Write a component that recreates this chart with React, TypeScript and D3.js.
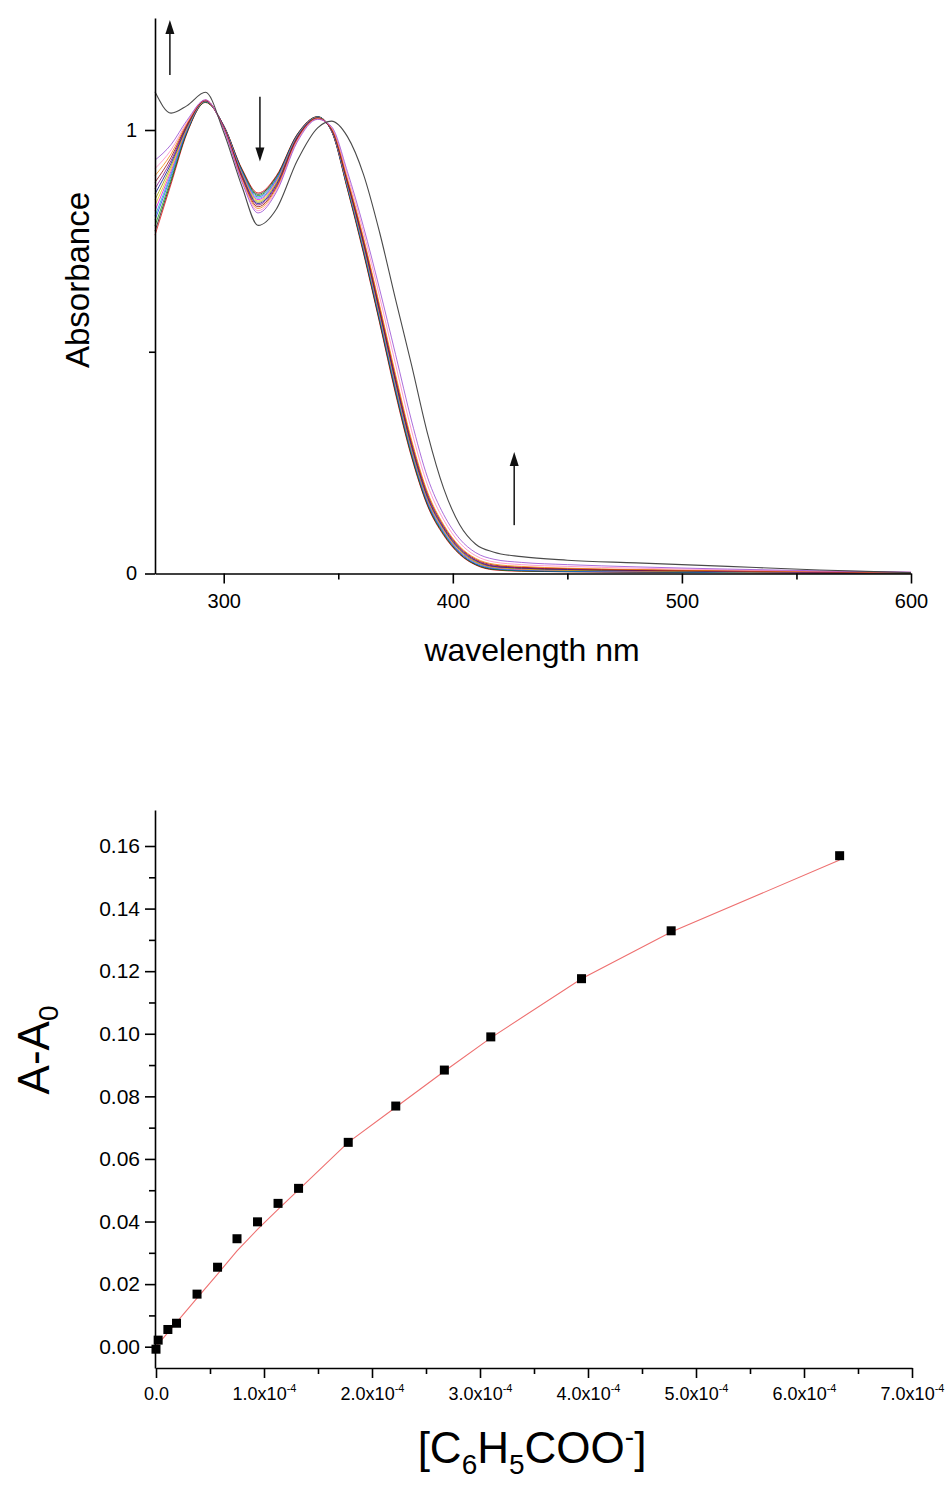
import React, { useRef, useEffect } from "react";
import * as d3 from "d3";

const W = 952;
const H = 1492;
const FONT = "'Liberation Sans', Arial, Helvetica, sans-serif";

// ---- top panel: UV-vis titration spectra ----
const wavelengths = [270, 277, 284, 292, 300, 308, 315, 323, 332, 341, 347, 354, 361, 368, 375, 382, 389, 396, 403, 410, 418, 430, 450, 480, 520, 560, 600];

const spec01 = [0.763, 0.878, 0.993, 1.062, 1.010, 0.912, 0.858, 0.897, 0.990, 1.030, 0.998, 0.866, 0.722, 0.566, 0.405, 0.262, 0.152, 0.086, 0.043, 0.019, 0.008, 0.005, 0.004, 0.003, 0.002, 0.001, 0.000];
const spec02 = [0.772, 0.884, 0.995, 1.063, 1.010, 0.910, 0.855, 0.895, 0.989, 1.030, 0.998, 0.868, 0.725, 0.569, 0.409, 0.265, 0.154, 0.088, 0.044, 0.020, 0.009, 0.006, 0.004, 0.003, 0.002, 0.001, 0.000];
const spec03 = [0.784, 0.889, 0.997, 1.063, 1.009, 0.908, 0.852, 0.892, 0.988, 1.029, 0.999, 0.870, 0.728, 0.573, 0.413, 0.268, 0.157, 0.090, 0.046, 0.021, 0.010, 0.006, 0.005, 0.004, 0.003, 0.002, 0.001];
const spec04 = [0.797, 0.896, 0.999, 1.064, 1.009, 0.906, 0.849, 0.890, 0.987, 1.029, 0.999, 0.872, 0.731, 0.576, 0.416, 0.272, 0.159, 0.092, 0.047, 0.022, 0.011, 0.007, 0.005, 0.004, 0.003, 0.002, 0.001];
const spec05 = [0.806, 0.901, 1.001, 1.064, 1.008, 0.904, 0.846, 0.887, 0.986, 1.029, 1.000, 0.874, 0.734, 0.580, 0.420, 0.275, 0.162, 0.094, 0.049, 0.024, 0.012, 0.008, 0.006, 0.005, 0.003, 0.002, 0.001];
const spec06 = [0.818, 0.907, 1.003, 1.065, 1.008, 0.902, 0.843, 0.885, 0.985, 1.028, 1.000, 0.876, 0.737, 0.583, 0.424, 0.278, 0.164, 0.096, 0.050, 0.025, 0.013, 0.009, 0.007, 0.005, 0.004, 0.002, 0.001];
const spec07 = [0.830, 0.913, 1.005, 1.065, 1.007, 0.900, 0.840, 0.882, 0.984, 1.028, 1.001, 0.878, 0.740, 0.586, 0.427, 0.281, 0.167, 0.098, 0.052, 0.026, 0.014, 0.010, 0.007, 0.006, 0.004, 0.003, 0.001];
const spec08 = [0.843, 0.919, 1.007, 1.066, 1.007, 0.898, 0.837, 0.880, 0.983, 1.028, 1.001, 0.880, 0.743, 0.590, 0.431, 0.284, 0.169, 0.100, 0.053, 0.027, 0.015, 0.011, 0.008, 0.006, 0.004, 0.003, 0.001];
const spec09 = [0.856, 0.925, 1.009, 1.066, 1.006, 0.896, 0.834, 0.877, 0.982, 1.027, 1.002, 0.882, 0.746, 0.593, 0.434, 0.288, 0.172, 0.102, 0.055, 0.029, 0.016, 0.012, 0.009, 0.007, 0.005, 0.003, 0.002];
const spec10 = [0.868, 0.931, 1.011, 1.066, 1.006, 0.894, 0.831, 0.874, 0.981, 1.027, 1.002, 0.884, 0.749, 0.596, 0.438, 0.291, 0.175, 0.104, 0.057, 0.030, 0.017, 0.013, 0.010, 0.008, 0.005, 0.003, 0.002];
const spec11 = [0.882, 0.938, 1.013, 1.067, 1.005, 0.891, 0.827, 0.871, 0.979, 1.026, 1.003, 0.887, 0.753, 0.601, 0.443, 0.296, 0.179, 0.107, 0.059, 0.032, 0.019, 0.014, 0.011, 0.008, 0.006, 0.004, 0.002];
const spec12 = [0.897, 0.946, 1.015, 1.067, 1.004, 0.888, 0.823, 0.868, 0.977, 1.026, 1.004, 0.890, 0.757, 0.606, 0.449, 0.301, 0.183, 0.110, 0.061, 0.034, 0.021, 0.016, 0.012, 0.009, 0.006, 0.004, 0.002];
const spec13 = [0.913, 0.955, 1.018, 1.068, 1.003, 0.885, 0.818, 0.864, 0.975, 1.025, 1.006, 0.898, 0.770, 0.625, 0.472, 0.322, 0.199, 0.121, 0.069, 0.040, 0.026, 0.020, 0.016, 0.012, 0.008, 0.005, 0.003];
const spec14 = [0.932, 0.967, 1.022, 1.068, 1.002, 0.882, 0.813, 0.860, 0.972, 1.024, 1.008, 0.906, 0.782, 0.642, 0.494, 0.344, 0.216, 0.133, 0.078, 0.047, 0.032, 0.025, 0.020, 0.015, 0.010, 0.006, 0.003];
// last spectrum (dark grey)
const specFinal = [1.086, 1.038, 1.055, 1.085, 0.995, 0.872, 0.785, 0.822, 0.930, 1.005, 1.020, 0.985, 0.900, 0.770, 0.618, 0.470, 0.315, 0.192, 0.110, 0.066, 0.048, 0.038, 0.030, 0.024, 0.016, 0.008, 0.002];

const spectra = [spec01, spec02, spec03, spec04, spec05, spec06, spec07, spec08, spec09, spec10, spec11, spec12, spec13, spec14];
const spectrumColors = ["#e00000", "#101010", "#00a000", "#2030ff", "#00b8c8", "#e000e0", "#e8c800", "#909000", "#000090", "#800080", "#900000", "#f08000", "#ff80c0", "#9040d0"];
const finalColor = "#4a4a4a";

const wlTicks = [300, 400, 500, 600];
const wlMinor = [350, 450, 550];
const absTicks = [0, 1];
const absMinor = [0.5];

// arrows: [wavelength, from absorbance, to absorbance]
const arrows = [
  [276.5, 1.124, 1.248],
  [315.8, 1.075, 0.929],
  [426.8, 0.109, 0.274],
];

// ---- bottom panel: A-A0 vs [benzoate] (x in 1e-4 M) ----
const conc = [0.0, 0.02, 0.11, 0.19, 0.38, 0.57, 0.75, 0.94, 1.13, 1.32, 1.78, 2.22, 2.67, 3.10, 3.94, 4.77, 6.33];
const deltaA = [-0.0008, 0.0021, 0.0055, 0.0075, 0.0168, 0.0254, 0.0345, 0.0399, 0.0458, 0.0506, 0.0653, 0.0769, 0.0884, 0.0990, 0.1176, 0.1329, 0.1569];

const fitConc = [0.0, 0.19, 0.38, 0.57, 0.75, 0.94, 1.13, 1.32, 1.78, 2.22, 2.67, 3.10, 3.94, 4.77, 6.33];
const fitDeltaA = [0.0, 0.0078, 0.0155, 0.0232, 0.0306, 0.0375, 0.0439, 0.0501, 0.0653, 0.0765, 0.0880, 0.0987, 0.1176, 0.1325, 0.1555];

const concTicks = [0, 1, 2, 3, 4, 5, 6, 7];
const concMinor = [0.5, 1.5, 2.5, 3.5, 4.5, 5.5, 6.5];
const dATicks = [0, 0.02, 0.04, 0.06, 0.08, 0.1, 0.12, 0.14, 0.16];
const dAMinor = [0.01, 0.03, 0.05, 0.07, 0.09, 0.11, 0.13, 0.15];

const styleAxis = (g, fontSize) => {
  g.attr("font-family", FONT).attr("font-size", fontSize);
  g.selectAll("path.domain").attr("stroke", "#000").attr("stroke-width", 1.6);
  g.selectAll(".tick line").attr("stroke", "#000").attr("stroke-width", 1.6);
  g.selectAll(".tick text").attr("fill", "#000");
};

const App = () => {
  const ref = useRef<SVGSVGElement>(null);

  useEffect(() => {
    const svg = d3.select(ref.current);
    svg.selectAll("*").remove();

    // ================= top panel =================
    const x1 = d3.scaleLinear().domain([270, 600]).range([155, 911]);
    const y1 = d3.scaleLinear().domain([0, 1]).range([573.5, 130]);
    const y1Axis = y1.copy().domain([0, y1.invert(18)]).range([573.5, 18]);
    const top = svg.append("g");

    const specLine = d3
      .line<number>()
      .x((d, i) => x1(wavelengths[i]))
      .y((d) => y1(d))
      .curve(d3.curveMonotoneX);

    spectra.forEach((s, i) => {
      top
        .append("path")
        .attr("d", specLine(s))
        .attr("fill", "none")
        .attr("stroke", spectrumColors[i])
        .attr("stroke-width", 0.9)
        .attr("stroke-opacity", 0.85);
    });
    top
      .append("path")
      .attr("d", specLine(specFinal))
      .attr("fill", "none")
      .attr("stroke", finalColor)
      .attr("stroke-width", 1.1);

    // axes
    const gx1 = top
      .append("g")
      .attr("transform", `translate(0,${y1(0)})`)
      .call(d3.axisBottom(x1).tickValues(wlTicks).tickSize(10).tickSizeOuter(0).tickPadding(10).tickFormat(d3.format("d")));
    styleAxis(gx1, 20);
    const gx1m = top
      .append("g")
      .attr("transform", `translate(0,${y1(0)})`)
      .call(d3.axisBottom(x1).tickValues(wlMinor).tickSize(6).tickFormat(() => ""));
    gx1m.select(".domain").remove();
    styleAxis(gx1m, 20);

    const gy1 = top
      .append("g")
      .attr("transform", `translate(155,0)`)
      .call(d3.axisLeft(y1Axis).tickValues(absTicks).tickSize(10).tickSizeOuter(0).tickPadding(8).tickFormat(d3.format("d")));
    styleAxis(gy1, 20);
    const gy1m = top
      .append("g")
      .attr("transform", `translate(155,0)`)
      .call(d3.axisLeft(y1Axis).tickValues(absMinor).tickSize(6).tickFormat(() => ""));
    gy1m.select(".domain").remove();
    styleAxis(gy1m, 20);

    // arrows
    arrows.forEach(([wl, a0, a1]) => {
      const ax = x1(wl);
      const ya = y1(a0);
      const yb = y1(a1);
      const dir = yb < ya ? 1 : -1;
      top
        .append("line")
        .attr("x1", ax)
        .attr("x2", ax)
        .attr("y1", ya)
        .attr("y2", yb + dir * 10)
        .attr("stroke", "#222")
        .attr("stroke-width", 1.6);
      top
        .append("path")
        .attr("d", `M${ax},${yb} L${ax - 4.5},${yb + dir * 14} L${ax + 4.5},${yb + dir * 14} Z`)
        .attr("fill", "#111");
    });

    top
      .append("text")
      .attr("transform", `translate(89,280) rotate(-90)`)
      .attr("text-anchor", "middle")
      .attr("font-family", FONT)
      .attr("font-size", 33)
      .text("Absorbance");
    top
      .append("text")
      .attr("x", 532)
      .attr("y", 661)
      .attr("text-anchor", "middle")
      .attr("font-family", FONT)
      .attr("font-size", 32)
      .text("wavelength nm");

    // ================= bottom panel =================
    const x2 = d3.scaleLinear().domain([0, 7]).range([156, 912]);
    const y2 = d3.scaleLinear().domain([0, 0.16]).range([1346.7, 846]);
    const y2Axis = y2.copy().domain([y2.invert(1368), y2.invert(810)]).range([1368, 810]);
    const bot = svg.append("g");

    const fitLine = d3
      .line<number>()
      .x((d, i) => x2(fitConc[i]))
      .y((d) => y2(d));
    bot
      .append("path")
      .attr("d", fitLine(fitDeltaA))
      .attr("fill", "none")
      .attr("stroke", "#ee7070")
      .attr("stroke-width", 1.1);

    bot
      .selectAll("rect.pt")
      .data(conc)
      .enter()
      .append("rect")
      .attr("class", "pt")
      .attr("x", (d) => x2(d) - 4.5)
      .attr("y", (d, i) => y2(deltaA[i]) - 4.5)
      .attr("width", 9)
      .attr("height", 9)
      .attr("fill", "#000");

    const gx2 = bot
      .append("g")
      .attr("transform", `translate(0,1368)`)
      .call(d3.axisBottom(x2).tickValues(concTicks).tickSize(10).tickSizeOuter(0).tickPadding(9));
    styleAxis(gx2, 18);
    gx2.selectAll(".tick text").each(function (d: any) {
      const t = d3.select(this);
      t.text(null);
      if (d === 0) {
        t.text("0.0");
      } else {
        t.append("tspan").text(`${d.toFixed(1)}x10`);
        t.append("tspan").attr("dy", "-8").attr("font-size", 11).text("-4");
      }
    });
    const gx2m = bot
      .append("g")
      .attr("transform", `translate(0,1368)`)
      .call(d3.axisBottom(x2).tickValues(concMinor).tickSize(6).tickFormat(() => ""));
    gx2m.select(".domain").remove();
    styleAxis(gx2m, 18);

    const gy2 = bot
      .append("g")
      .attr("transform", `translate(155,0)`)
      .call(d3.axisLeft(y2Axis).tickValues(dATicks).tickSize(10).tickSizeOuter(0).tickPadding(5).tickFormat(d3.format(".2f")));
    styleAxis(gy2, 21);
    const gy2m = bot
      .append("g")
      .attr("transform", `translate(155,0)`)
      .call(d3.axisLeft(y2Axis).tickValues(dAMinor).tickSize(6).tickFormat(() => ""));
    gy2m.select(".domain").remove();
    styleAxis(gy2m, 21);

    // axis titles
    const yt = bot
      .append("text")
      .attr("transform", `translate(49,1050) rotate(-90)`)
      .attr("text-anchor", "middle")
      .attr("font-family", FONT)
      .attr("font-size", 44);
    yt.append("tspan").text("A-A");
    yt.append("tspan").attr("dy", 9).attr("font-size", 28).text("0");

    const xt = bot
      .append("text")
      .attr("x", 532)
      .attr("y", 1463)
      .attr("text-anchor", "middle")
      .attr("font-family", FONT)
      .attr("font-size", 44);
    xt.append("tspan").text("[C");
    xt.append("tspan").attr("dy", 11).attr("font-size", 28).text("6");
    xt.append("tspan").attr("dy", -11).text("H");
    xt.append("tspan").attr("dy", 11).attr("font-size", 28).text("5");
    xt.append("tspan").attr("dy", -11).text("COO");
    xt.append("tspan").attr("dy", -17).attr("font-size", 28).text("-");
    xt.append("tspan").attr("dy", 17).text("]");
  }, []);

  return (
    <svg
      ref={ref}
      width={W}
      height={H}
      style={{ position: "absolute", left: 0, top: 0, background: "#fff" }}
    />
  );
};

export default App;
